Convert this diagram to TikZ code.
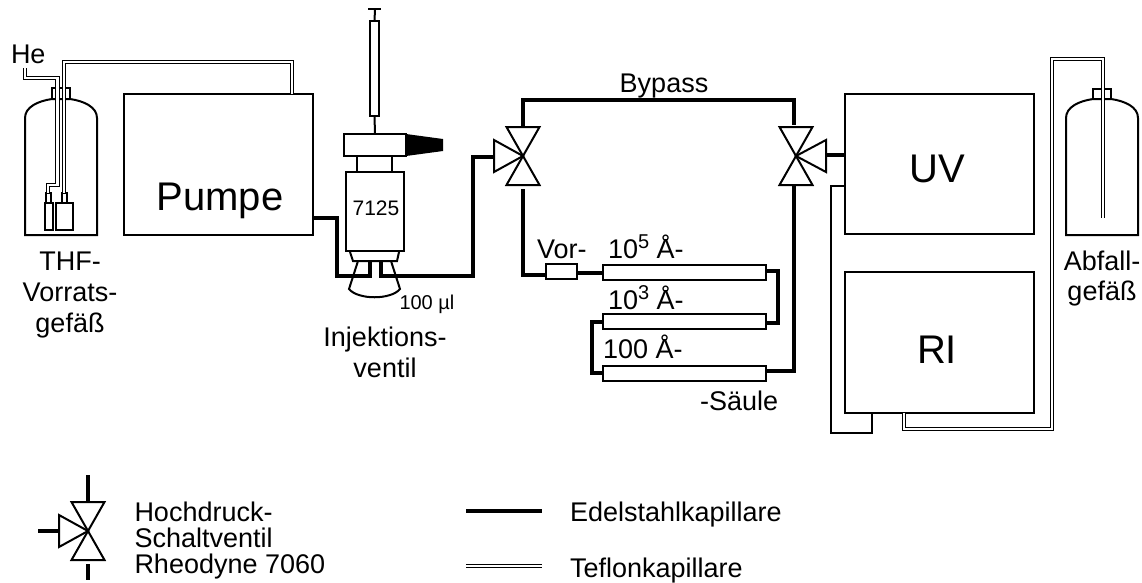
\documentclass[tikz,border=0pt]{standalone}
\usepackage{fontspec}
\setmainfont{Liberation Sans}
\newcommand{\fsz}[1]{\fontsize{#1}{#1}\selectfont}
\newcommand{\sups}[1]{\raisebox{10pt}{\fsz{20}#1}}
\tikzset{
  box/.style={draw=black,line width=2pt,fill=none,inner sep=0pt,outer sep=0pt},
  outline/.style={draw=black,line width=2pt,line join=miter},
  pipe/.style={draw=black,line width=3.4pt,line join=miter},
  teflon/.style={draw=black,line width=0.9pt,double=white,double distance=2.6pt,line join=miter},
  label/.style={inner sep=0pt,outer sep=0pt,font=\fsz{27},anchor=base west},
  clabel/.style={inner sep=0pt,outer sep=0pt,font=\fsz{27},anchor=base},
  big/.style={inner sep=0pt,outer sep=0pt,font=\fsz{40},anchor=base},
}
\newcommand{\valve}[2]{%
  \draw[outline] (#1) -- ++(-16.5,-29) -- ++(33,0) -- cycle;
  \draw[outline] (#1) -- ++(-16.5,29) -- ++(33,0) -- cycle;
  \draw[outline] (#1) -- ++(#2,-16) -- ++(0,32) -- cycle;
}
\begin{document}
\begin{tikzpicture}[x=1pt,y=-1pt]
\useasboundingbox (0,0) rectangle (1142,582);
% ---------- boxes
\node[box,minimum width=189pt,minimum height=141pt] (pumpe) at (218.5,164.5) {};
\node[box,minimum width=189pt,minimum height=140pt] (uv) at (939.5,164) {};
\node[box,minimum width=189pt,minimum height=141pt] (ri) at (939.5,342.5) {};
\node[big] (tpumpe) at (220,210) {Pumpe};
\node[big] (tuv) at (937,182) {UV};
\node[big] (tri) at (937,363) {RI};
% ---------- bottles
\draw[outline] (25,235) -- (25,118) .. controls (25,107) and (38,101) .. (52,99) -- (70,99) .. controls (84,101) and (97,107) .. (97,118) -- (97,235) -- cycle;
\node[box,minimum width=18pt,minimum height=11pt] (capA) at (61,93.5) {};
\node[box,minimum width=8pt,minimum height=27pt] (filtA) at (49,216.5) {};
\node[box,minimum width=17pt,minimum height=27pt] (filtB) at (64.5,216.5) {};
\node[box,minimum width=5pt,minimum height=10pt] (neckA) at (48,198) {};
\node[box,minimum width=5pt,minimum height=10pt] (neckB) at (64,198) {};
\draw[outline] (1066,235) -- (1066,118) .. controls (1066,107) and (1079,101) .. (1093,99) -- (1111,99) .. controls (1125,101) and (1138,107) .. (1138,118) -- (1138,235) -- cycle;
\node[box,minimum width=18pt,minimum height=10pt] (capB) at (1102,94) {};
% ---------- teflon tubes
\coordinate (heIn) at (25,68);
\coordinate (wasteEnd) at (1103,218);
\draw[teflon] (heIn) |- (57.5,78) -- (57.5,185) -| (neckA.north);
\draw[teflon] (pumpe.north -| 292,0) -- (292,62) -| (neckB.north);
\draw[teflon] (ri.south -| 904,0) -- (904,429) -- (1052,429) -- (1052,59) -- (1103,59) -- (wasteEnd);
% ---------- injection valve
\node[box,minimum width=9pt,minimum height=95pt] (barrel) at (374.5,68.5) {};
\coordinate (plunger) at (375,9);
\draw[outline] (368,9) -- (381,9);
\draw[outline] (plunger) -- (barrel.north);
\node[box,minimum width=62pt,minimum height=22pt] (head) at (375,145) {};
\draw[outline] (barrel.south) -- (head.north);
\fill[black] (head.north east) -- (443,139) -- (443,151) -- (head.south east) -- cycle;
\node[box,minimum width=58pt,minimum height=79pt] (body) at (375,211.5) {};
\draw[outline] (357,156) -- (357,172);
\draw[outline] (392,156) -- (392,172);
\node[inner sep=0pt,font=\fsz{21}] (t7125) at (376,208) {7125};
\draw[outline] (350,252) -- (353,261) -- (397,261) -- (399,252);
\coordinate (loopL) at (349,289);
\coordinate (loopR) at (400,289);
\draw[outline] (358,261) -- (loopL) .. controls (358,300) and (391,300) .. (loopR) -- (391,261);
\node[label,font=\fsz{20}] (tloop) at (399.5,309) {100 µl};
% ---------- valves
\coordinate (vL) at (523,156);
\coordinate (vR) at (796,156);
\coordinate (vK) at (88,531);
\valve{vL}{-29}
\valve{vR}{30}
\valve{vK}{-29}
% ---------- columns
\node[box,minimum width=31pt,minimum height=15pt] (pre) at (561.5,271.5) {};
\node[box,minimum width=163pt,minimum height=15pt] (colA) at (684.5,272.5) {};
\node[box,minimum width=163pt,minimum height=15pt] (colB) at (684.5,321.5) {};
\node[box,minimum width=163pt,minimum height=15pt] (colC) at (684.5,373.5) {};
% ---------- steel capillaries
\draw[pipe] (pumpe.east |- 0,218) -- (337,218) -- (337,276) -- (370,276) -- (370,261);
\draw[pipe] (381,261) -- (381,276) -- (473,276) -- (473,157) -- (494,157);
\draw[pipe] (523,127) -- (523,100) -- (794,100) -- (794,125);
\draw[pipe] (794,185) -- (794,371) -- (colC.east |- 0,371);
\draw[pipe] (826,155) -- (uv.west |- 0,155);
\draw[pipe] (523,189) -- (523,275) -- (pre.west |- 0,275);
\draw[pipe] (pre.east |- 0,273) -- (colA.west |- 0,273);
\draw[pipe] (colA.east |- 0,271) -- (778,271) -- (778,323) -- (colB.east |- 0,323);
\draw[pipe] (colB.west |- 0,322) -- (592,322) -- (592,373) -- (colC.west |- 0,373);
% ---------- detector link
\draw[outline] (uv.west |- 0,186) -- (831,186) -- (831,433) -- (872,433) -- (ri.south -| 872,0);
% ---------- labels
\node[label] (the) at (11,63) {He};
\node[clabel] (t1) at (70,270) {THF-};
\node[clabel] (t2) at (70,301) {Vorrats-};
\node[clabel] (t3) at (70,332) {gefäß};
\node[clabel] (tinj) at (385,346) {Injektions-};
\node[clabel] (tven) at (385,377) {ventil};
\node[clabel] (tby) at (664,92) {Bypass};
\node[label] (tvor) at (537,258) {Vor-};
\node[label] (tA) at (608,258) {10\sups{5} Å-};
\node[label] (tB) at (608,309) {10\sups{3} Å-};
\node[label] (tC) at (603,358) {100 Å-};
\node[label] (tS) at (700,410) {-Säule};
\node[clabel] (tab) at (1102,270) {Abfall-};
\node[clabel] (tge) at (1102,300) {gefäß};
% ---------- legend
\coordinate (kT) at (88,475);
\coordinate (kL) at (38,531);
\coordinate (kB) at (88,580);
\draw[pipe] (kT) -- (88,502);
\draw[pipe] (kL) -- (59,531);
\draw[pipe] (88,564) -- (kB);
\node[label] (l1) at (134.5,521) {Hochdruck-};
\node[label] (l2) at (134.5,547) {Schaltventil};
\node[label] (l3) at (134.5,573) {Rheodyne 7060};
\coordinate (e1) at (466,511);
\coordinate (e2) at (542,511);
\coordinate (f1) at (466,566);
\coordinate (f2) at (542,566);
\draw[pipe] (e1) -- (e2);
\draw[teflon] (f1) -- (f2);
\node[label] (l4) at (570,521) {Edelstahlkapillare};
\node[label] (l5) at (570,577) {Teflonkapillare};
\end{tikzpicture}
\end{document}
